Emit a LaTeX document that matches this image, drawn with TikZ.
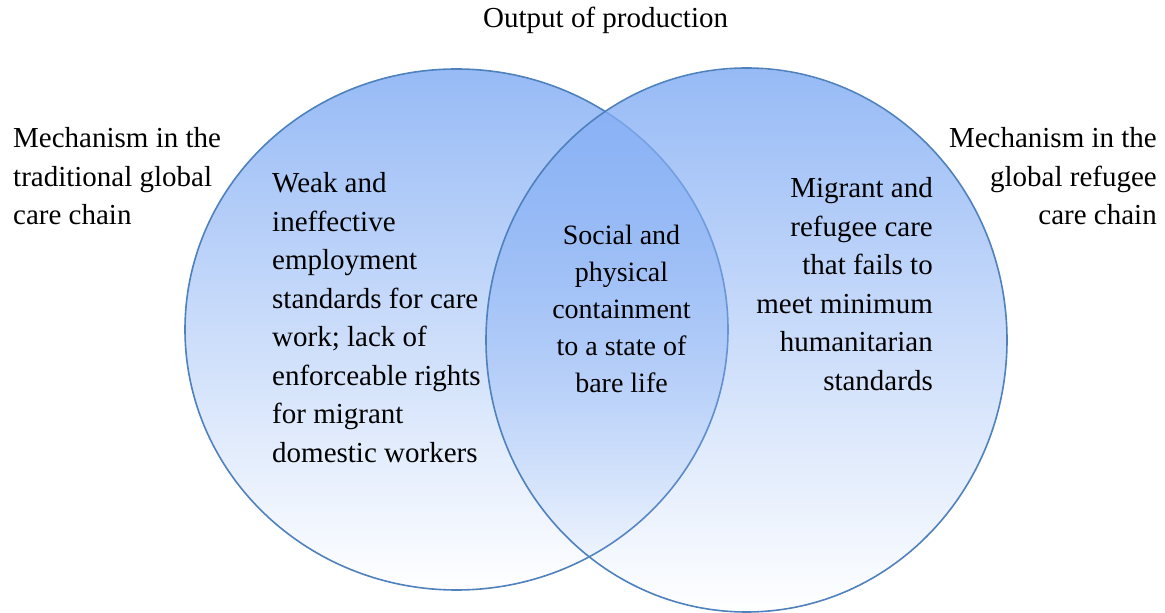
\documentclass[tikz,border=0pt]{standalone}
\usepackage{fontspec}
\setmainfont{Liberation Serif}
\usetikzlibrary{fadings}
\definecolor{vennfill}{RGB}{132,174,244}
\definecolor{vennline}{RGB}{79,129,189}
\tikzfading[name=vennfade, top color=transparent!15, middle color=transparent!40, bottom color=transparent!100]
\begin{document}
\begin{tikzpicture}[x=1pt,y=1pt,
  txt/.style={font=\fontsize{29}{38.5}\selectfont, inner sep=0pt},
  ctxt/.style={font=\fontsize{28}{37}\selectfont, inner sep=0pt},
  venn/.style={fill=vennfill, path fading=vennfade},
  rim/.style={draw=vennline, line width=1.6pt}]
\useasboundingbox (0,0) rectangle (1165,613);
% left set
\path[venn] (456.5,283.5) ellipse [x radius=271.5, y radius=260.5];
\draw[rim] (456.5,283.5) ellipse [x radius=271.5, y radius=260.5];
% right set
\path[venn] (746.5,273) ellipse [x radius=260.5, y radius=272];
\draw[rim] (746.5,273) ellipse [x radius=260.5, y radius=272];
% texts
\node[txt, anchor=base west] (title) at (483,585) {Output of production};
\node[txt, anchor=base west] (leftlabel) at (13,465)
  {\begin{tabular}[t]{@{}l@{}}Mechanism in the\\traditional global\\care chain\end{tabular}};
\node[txt, anchor=base east] (rightlabel) at (1157,465)
  {\begin{tabular}[t]{@{}r@{}}Mechanism in the\\global refugee\\care chain\end{tabular}};
\node[txt, anchor=base west] (lefttext) at (272,420)
  {\begin{tabular}[t]{@{}l@{}}Weak and\\ineffective\\employment\\standards for care\\work; lack of\\enforceable rights\\for migrant\\domestic workers\end{tabular}};
\node[ctxt, anchor=base] (centertext) at (621.5,368)
  {\begin{tabular}[t]{@{}c@{}}Social and\\physical\\containment\\to a state of\\bare life\end{tabular}};
\node[txt, anchor=base east] (righttext) at (933,415)
  {\begin{tabular}[t]{@{}r@{}}Migrant and\\refugee care\\that fails to\\meet minimum\\humanitarian\\standards\end{tabular}};
\end{tikzpicture}
\end{document}
